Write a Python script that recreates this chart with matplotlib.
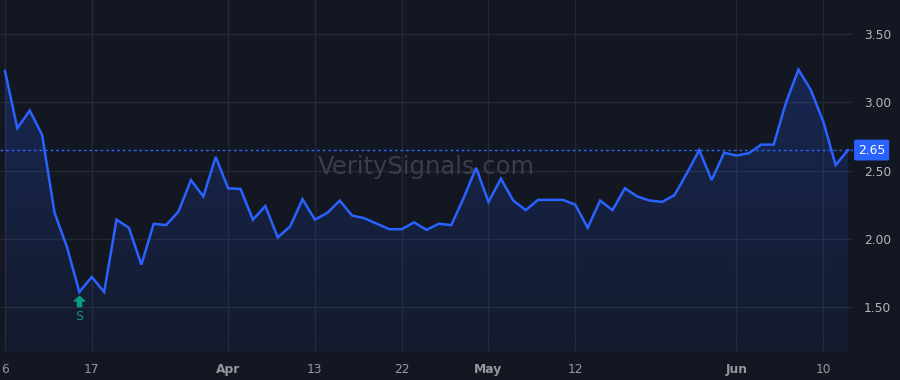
#!/usr/bin/env python3

import matplotlib
matplotlib.use("Agg")
import matplotlib.pyplot as plt
import numpy as np
from matplotlib.patches import Polygon
from matplotlib.path import Path

# daily closes, one per trading bar
prices = [
    3.23, 2.81, 2.94, 2.76, 2.19, 1.94, 1.61, 1.72, 1.61, 2.14,
    2.08, 1.81, 2.11, 2.10, 2.20, 2.43, 2.31, 2.60, 2.37, 2.365,
    2.14, 2.24, 2.01, 2.09, 2.29, 2.14, 2.19, 2.28, 2.17, 2.15,
    2.11, 2.07, 2.07, 2.12, 2.065, 2.11, 2.10, 2.30, 2.52, 2.27,
    2.44, 2.28, 2.21, 2.285, 2.285, 2.285, 2.25, 2.08, 2.28, 2.21,
    2.37, 2.31, 2.28, 2.27, 2.32, 2.48, 2.65, 2.43, 2.63, 2.61,
    2.627, 2.69, 2.69, 3.00, 3.24, 3.09, 2.86, 2.54, 2.65,
]
tick_bars = [0, 7, 18, 25, 32, 39, 46, 59, 66]
tick_labels = ["6", "17", "Apr", "13", "22", "May", "12", "Jun", "10"]
month_labels = {"Apr", "May", "Jun"}
y_ticks = [1.50, 2.00, 2.50, 3.00, 3.50]
last_price = 2.65
signal_bar = 6
signal_text = "S"
watermark = "VeritySignals.com"

BG = "#131722"
LINE = "#2962ff"
GRID = "#242833"
TEXT = "#b2b5be"
GREEN = "#089981"

# up arrow marker shape
ARROW = Path([(-0.5, 0.05), (0.0, 0.5), (0.5, 0.05), (0.2, 0.05), (0.2, -0.5),
              (-0.2, -0.5), (-0.2, 0.05), (-0.5, 0.05)], closed=True)


def main():
    x = np.arange(len(prices))
    y = np.array(prices)

    fig = plt.figure(figsize=(9, 3.8), dpi=100, facecolor=BG)
    ax = fig.add_axes([0, 28 / 380, 853 / 900, 352 / 380])
    ax.set_facecolor(BG)
    ax.set_xlim(-0.4, 68.4)
    ax.set_ylim(1.17, 3.75)

    for side in ax.spines.values():
        side.set_visible(False)

    ax.set_xticks(tick_bars)
    ax.set_yticks(y_ticks)
    ax.grid(True, color=GRID, linewidth=1)
    ax.set_axisbelow(True)
    ax.tick_params(length=0)
    ax.yaxis.tick_right()
    ax.set_yticklabels([f"{v:.2f}" for v in y_ticks], color=TEXT, fontsize=8.8)
    ax.tick_params(axis="y", pad=8)
    ax.set_xticklabels(tick_labels, color="#9598a1", fontsize=8.8)
    for lab in ax.get_xticklabels():
        if lab.get_text() in month_labels:
            lab.set_fontweight("bold")
    ax.tick_params(axis="x", pad=8)

    # gradient fill under the line
    y0 = ax.get_ylim()[0]
    verts = np.vstack([np.column_stack([x, y]), [[x[-1], y0], [x[0], y0]]])
    poly = Polygon(verts, closed=True, facecolor="none", edgecolor="none")
    ax.add_patch(poly)
    grad = np.zeros((100, 1, 4))
    grad[..., :3] = matplotlib.colors.to_rgb(LINE)
    grad[..., 3] = np.linspace(0.05, 0.22, 100)[:, None]
    img = ax.imshow(grad, extent=[x[0], x[-1], y0, y.max()], origin="lower",
                    aspect="auto", zorder=1)
    img.set_clip_path(poly)

    ax.plot(x, y, color=LINE, linewidth=1.8, zorder=3, solid_joinstyle="miter")

    # last price line and label
    ax.axhline(last_price, color=LINE, linewidth=1, linestyle=(0, (2, 2)), zorder=2)
    ax.text(1.0 + 5 / 853, last_price, f"{last_price:.2f}", transform=ax.get_yaxis_transform(),
            color="white", fontsize=8.8, va="center", ha="left", zorder=5,
            bbox=dict(boxstyle="round,pad=0.32,rounding_size=0.15", fc=LINE, ec="none"),
            clip_on=False)

    # signal marker
    ax.plot([signal_bar], [prices[signal_bar] - 0.065], marker=ARROW, markersize=7.5,
            color=GREEN, linestyle="none", zorder=4)
    ax.text(signal_bar, prices[signal_bar] - 0.18, signal_text, color=GREEN,
            fontsize=9, ha="center", va="center", zorder=4)

    ax.text(0.5, 0.525, watermark, transform=ax.transAxes, color="#3a3e4a",
            fontsize=17.5, ha="center", va="center", zorder=2)

    fig.savefig("out.png", dpi=100, facecolor=BG)


if __name__ == "__main__":
    main()
